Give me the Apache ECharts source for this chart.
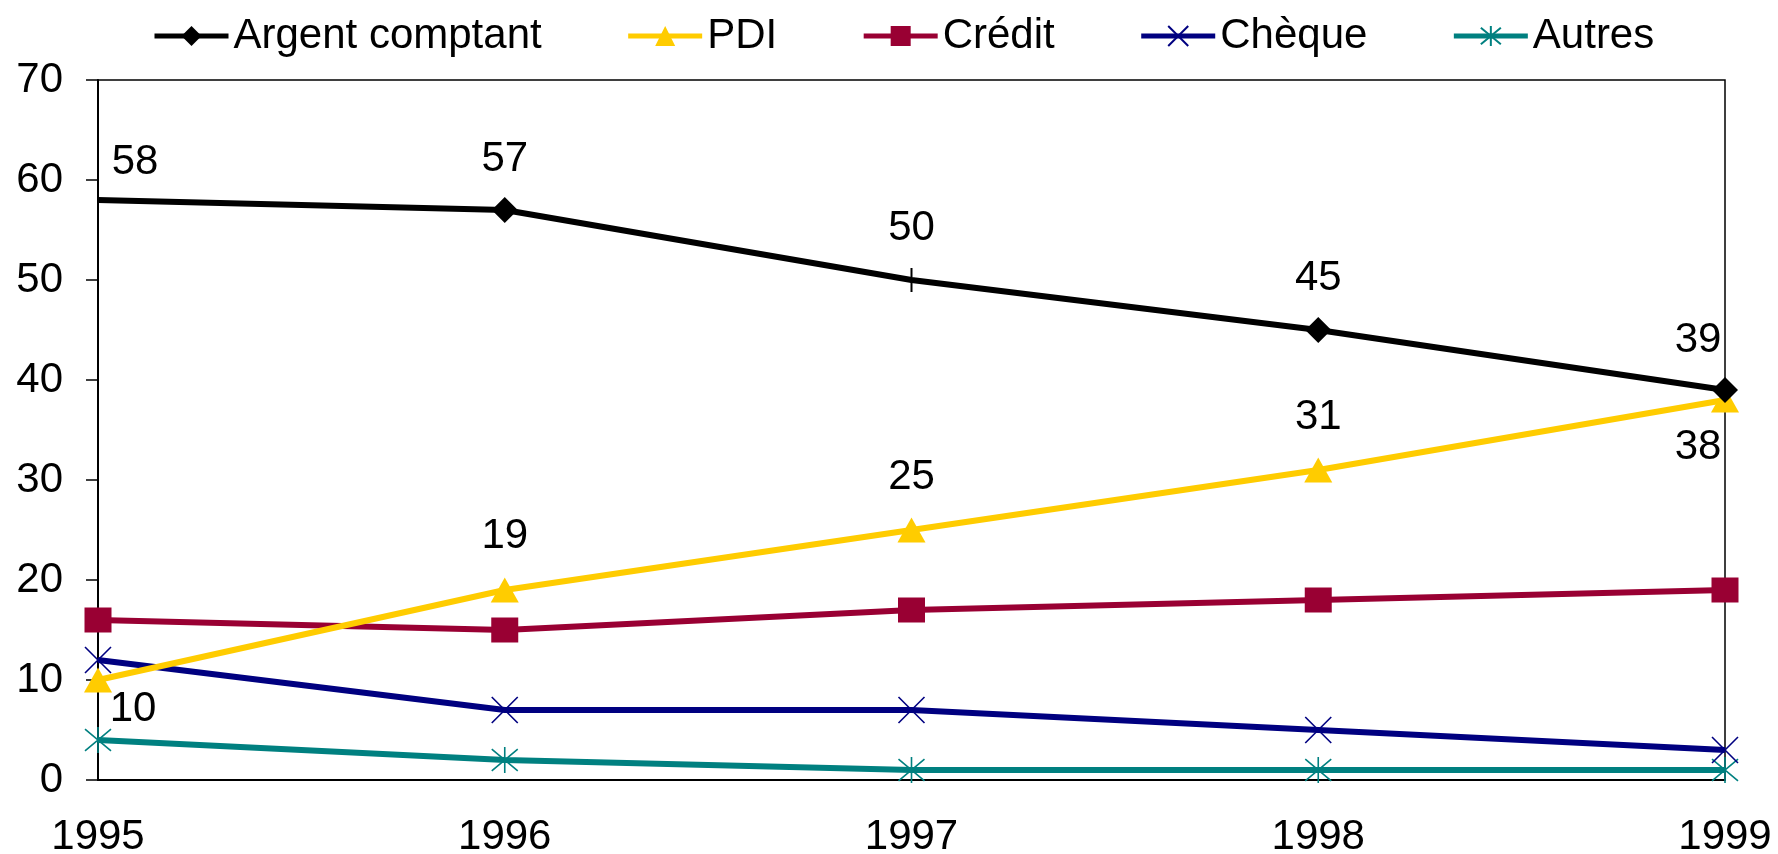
<!DOCTYPE html>
<html>
<head>
<meta charset="utf-8">
<script src="https://cdn.jsdelivr.net/npm/echarts@6/dist/echarts.min.js"></script>
<style>
html,body{margin:0;padding:0;background:#fff;}
#chart{width:1778px;height:854px;}
</style>
</head>
<body>
<div id="chart"></div>
<script>
// ---- Data ----
const years = ['1995', '1996', '1997', '1998', '1999'];
const argentComptant = [58, 57, 50, 45, 39];
const pdi = [10, 19, 25, 31, 38];
const credit = [16, 15, 17, 18, 19];
const cheque = [12, 7, 7, 5, 3];
const autres = [4, 2, 1, 1, 1];
const seriesNames = ['Argent comptant', 'PDI', 'Crédit', 'Chèque', 'Autres'];
const yTicks = [0, 10, 20, 30, 40, 50, 60, 70];

// ---- Presentation ----
const FONT = '"Liberation Sans", Arial, sans-serif';
const argentLabelOffsets = [[37, -38], [0, -51], [0, -52], [0, -52], [-27, -50]];
const pdiLabelOffsets = [[35, 29], [0, -54], [0, -53], [0, -53], [-27, 47]];
const argentSymbols = ['rect', 'diamond', 'rect', 'diamond', 'diamond'];

function labelled(values, offsets, symbols) {
  return values.map((v, i) => {
    const item = {
      value: v,
      label: {
        show: true, position: 'inside', offset: offsets[i],
        color: '#000', fontSize: 42, fontFamily: FONT,
        align: 'center', verticalAlign: 'middle'
      }
    };
    if (symbols) {
      item.symbol = symbols[i];
      item.symbolSize = symbols[i] === 'rect' ? [2, 24] : 26;
    }
    return item;
  });
}

const crossPath = 'path://M0 0 L10 10 M10 0 L0 10';
const starPath = 'path://M0 0 L10 10 M10 0 L0 10 M5 -1 L5 11';

const chart = echarts.init(document.getElementById('chart'), null, {renderer: 'canvas'});
chart.setOption({
  animation: false,
  backgroundColor: '#fff',
  legend: {
    top: 10, left: 147,
    itemWidth: 74, itemHeight: 25, itemGap: 84,
    lineStyle: {width: 5},
    textStyle: {fontSize: 42, color: '#000', fontFamily: FONT},
    data: seriesNames
  },
  grid: {
    left: 98, right: 53, top: 80, bottom: 74,
    containLabel: false, outerBoundsMode: 'none',
    show: true, borderColor: '#000', borderWidth: 1.5, backgroundColor: 'transparent'
  },
  xAxis: {
    type: 'category', data: years, boundaryGap: false,
    axisLine: {lineStyle: {color: '#000', width: 2}},
    axisTick: {show: false},
    axisLabel: {color: '#000', fontSize: 42, fontFamily: FONT, margin: 36}
  },
  yAxis: {
    type: 'value', min: yTicks[0], max: yTicks[yTicks.length - 1], interval: 10,
    axisLine: {show: true, lineStyle: {color: '#000', width: 2}},
    axisTick: {show: true, length: 12, lineStyle: {color: '#000', width: 1.5}},
    splitLine: {show: false},
    axisLabel: {color: '#000', fontSize: 42, fontFamily: FONT, margin: 35}
  },
  series: [
    {
      name: seriesNames[0], type: 'line', data: labelled(argentComptant, argentLabelOffsets, argentSymbols),
      symbol: 'diamond', symbolSize: 26, z: 6,
      lineStyle: {color: '#000', width: 6}, itemStyle: {color: '#000'}
    },
    {
      name: seriesNames[1], type: 'line', data: labelled(pdi, pdiLabelOffsets, null),
      symbol: 'triangle', symbolSize: [28, 25], z: 5,
      lineStyle: {color: '#FFCC00', width: 6}, itemStyle: {color: '#FFCC00'}
    },
    {
      name: seriesNames[2], type: 'line', data: credit,
      symbol: 'rect', symbolSize: [27, 25], z: 4,
      lineStyle: {color: '#990033', width: 6}, itemStyle: {color: '#990033'}
    },
    {
      name: seriesNames[3], type: 'line', data: cheque,
      symbol: crossPath, symbolSize: 26, z: 3,
      lineStyle: {color: '#000080', width: 6},
      itemStyle: {color: '#000080', borderColor: '#000080', borderWidth: 1.6}
    },
    {
      name: seriesNames[4], type: 'line', data: autres,
      symbol: starPath, symbolSize: 26, z: 2,
      lineStyle: {color: '#008080', width: 6},
      itemStyle: {color: '#008080', borderColor: '#008080', borderWidth: 1.6}
    }
  ]
});
</script>
</body>
</html>
